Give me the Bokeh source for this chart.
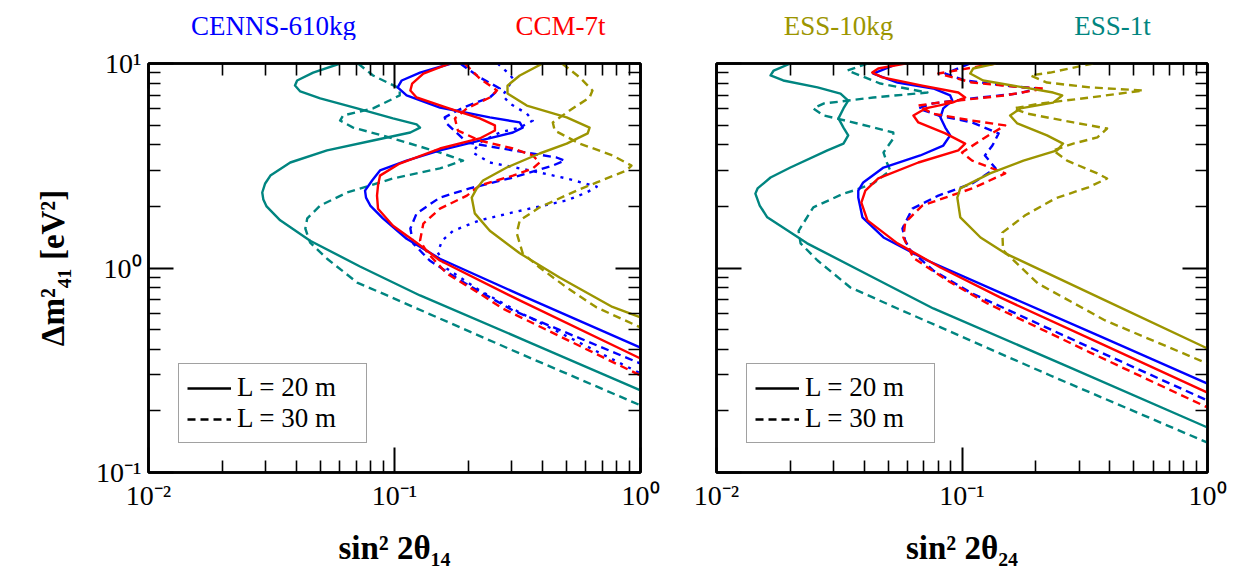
from bokeh.plotting import figure
from bokeh.models import (LogAxis, FixedTicker, CustomJSTickFormatter, Legend,
                          LegendItem, Range1d)
from bokeh.layouts import row, column
from bokeh.core.properties import value
from bokeh.embed import file_html
from bokeh.resources import INLINE

# ---------------- data: left panel (sin^2 2theta_14) ----------------
ess1t_L20_s14 = [0.0601, 0.0467, 0.0402, 0.0394, 0.0414, 0.0499, 0.0705, 0.0986, 0.123, 0.127, 0.116, 0.0818,
                 0.0532, 0.0377, 0.0313, 0.0298, 0.0290, 0.0293, 0.0302, 0.0343, 0.0454, 0.0724, 0.127, 0.355, 1.0]
ess1t_L20_m14 = [10.0, 9.03, 8.26, 7.80, 7.30, 6.75, 6.03, 5.39, 5.04, 4.86, 4.60, 4.20,
                 3.76, 3.28, 2.83, 2.59, 2.34, 2.16, 2.00, 1.71, 1.36, 1.017, 0.734, 0.432, 0.252]
ess1t_L30_s14 = [0.0711, 0.0818, 0.105, 0.105, 0.0818, 0.0618, 0.0601, 0.0679, 0.0986, 0.153, 0.190, 0.153,
                 0.0986, 0.0641, 0.0499, 0.0442, 0.0434, 0.0454, 0.0532, 0.0705, 0.0933, 0.323, 1.0]
ess1t_L30_m14 = [10.0, 8.74, 7.55, 6.98, 6.03, 5.57, 5.26, 4.86, 4.30, 3.67, 3.35, 3.07,
                 2.74, 2.34, 2.02, 1.75, 1.56, 1.33, 1.11, 0.849, 0.734, 0.382, 0.213]
cenns_L20_s14 = [0.170, 0.127, 0.107, 0.103, 0.112, 0.153, 0.244, 0.323, 0.332, 0.303, 0.222, 0.153,
                 0.112, 0.0873, 0.0811, 0.0759, 0.0766, 0.0797, 0.0897, 0.112, 0.153, 0.323, 1.0]
cenns_L20_m14 = [10.0, 9.03, 8.26, 7.64, 6.98, 6.09, 5.45, 5.15, 4.86, 4.60, 4.20, 3.76,
                 3.35, 3.00, 2.68, 2.39, 2.21, 2.02, 1.75, 1.39, 1.11, 0.741, 0.408]
cenns_L30_s14 = [0.185, 0.222, 0.268, 0.244, 0.190, 0.160, 0.163, 0.197, 0.303, 0.456, 0.492, 0.440,
                 0.303, 0.202, 0.153, 0.123, 0.116, 0.119, 0.139, 0.185, 0.303, 1.0]
cenns_L30_m14 = [10.0, 8.55, 7.55, 6.82, 6.09, 5.45, 5.09, 4.11, 3.76, 3.47, 3.35, 3.17,
                 2.77, 2.45, 2.21, 1.85, 1.56, 1.32, 1.088, 0.869, 0.620, 0.341]
cenns_alt_s14 = [0.263, 0.288, 0.303, 0.288, 0.275, 0.294, 0.345, 0.365, 0.323, 0.268, 0.222, 0.208,
                 0.244, 0.355, 0.501, 0.664, 0.604, 0.501, 0.303, 0.222, 0.173, 0.156, 0.150, 0.157,
                 0.163, 0.222, 0.323, 1.0]
cenns_alt_m14 = [10.0, 9.03, 8.45, 7.55, 6.98, 6.37, 5.69, 5.26, 4.86, 4.60, 4.11, 3.67,
                 3.28, 3.00, 2.74, 2.50, 2.34, 2.14, 1.87, 1.71, 1.52, 1.36, 1.19, 1.088,
                 0.994, 0.776, 0.606, 0.305]
ccm_L20_s14 = [0.168, 0.131, 0.118, 0.116, 0.123, 0.163, 0.222, 0.256, 0.256, 0.222, 0.153, 0.105,
               0.0873, 0.0857, 0.0849, 0.0857, 0.0986, 0.123, 0.153, 0.323, 1.0]
ccm_L20_m14 = [10.0, 8.93, 7.98, 7.38, 6.82, 6.09, 5.39, 4.98, 4.70, 4.30, 3.84, 3.24,
               2.83, 2.53, 2.26, 1.95, 1.61, 1.33, 1.088, 0.694, 0.361]
ccm_L30_s14 = [0.193, 0.222, 0.261, 0.244, 0.197, 0.176, 0.181, 0.222, 0.303, 0.365, 0.389, 0.365,
               0.303, 0.222, 0.197, 0.153, 0.131, 0.127, 0.136, 0.163, 0.222, 0.275, 1.0]
ccm_L30_m14 = [10.0, 8.45, 7.38, 6.82, 6.03, 5.39, 4.70, 4.20, 3.84, 3.55, 3.28, 3.07,
               2.83, 2.53, 2.26, 1.95, 1.65, 1.36, 1.19, 0.940, 0.750, 0.634, 0.298]
ess10_L20_s14 = [0.40, 0.323, 0.288, 0.288, 0.345, 0.501, 0.621, 0.610, 0.501, 0.389, 0.286, 0.229,
                 0.216, 0.206, 0.212, 0.244, 0.323, 0.469, 0.769, 1.0]
ess10_L20_m14 = [10.0, 8.74, 7.80, 7.13, 6.23, 5.45, 4.86, 4.55, 4.06, 3.63, 3.10, 2.68,
                 2.45, 2.21, 1.85, 1.52, 1.18, 0.899, 0.645, 0.573]
ess10_L30_s14 = [0.48, 0.566, 0.638, 0.621, 0.515, 0.440, 0.448, 0.566, 0.769, 0.919, 0.877, 0.664,
                 0.550, 0.389, 0.323, 0.314, 0.332, 0.389, 0.501, 0.664, 1.0]
ess10_L30_m14 = [10.0, 8.55, 7.38, 6.82, 5.89, 5.15, 4.70, 4.06, 3.55, 3.17, 3.00, 2.62,
                 2.39, 1.98, 1.71, 1.48, 1.18, 1.006, 0.803, 0.641, 0.512]

# ---------------- data: right panel (sin^2 2theta_24) ----------------
ess1t_L20_s24 = [0.0200, 0.0171, 0.0166, 0.0187, 0.0258, 0.0320, 0.0344, 0.0329, 0.0314, 0.0329, 0.0344,
                 0.0329, 0.0283, 0.0200, 0.0166, 0.0147, 0.0144, 0.0150, 0.0161, 0.0234, 0.0435, 0.0764,
                 0.276, 1.0]
ess1t_L20_m24 = [10.0, 9.24, 8.74, 8.26, 7.64, 7.13, 6.59, 6.03, 5.39, 4.86, 4.45,
                 4.06, 3.76, 3.10, 2.77, 2.45, 2.31, 2.02, 1.77, 1.32, 0.899, 0.634,
                 0.326, 0.166]
ess1t_L30_s24 = [0.0412, 0.0341, 0.0465, 0.0723, 0.0435, 0.0273, 0.0248, 0.0273, 0.0375, 0.0525, 0.0525,
                 0.0479, 0.0496, 0.0510, 0.0435, 0.0361, 0.0329, 0.0248, 0.0216, 0.0220, 0.0258,
                 0.0351, 0.0546, 0.229, 1.0]
ess1t_L30_m24 = [10.0, 9.24, 7.98, 7.21, 6.82, 6.37, 6.03, 5.57, 5.09, 4.60, 4.30,
                 3.67, 3.24, 3.00, 2.59, 2.39, 2.31, 1.98, 1.52, 1.32, 1.088,
                 0.803, 0.634, 0.298, 0.140]
cenns_L20_s24 = [0.0551, 0.0435, 0.0546, 0.0764, 0.0895, 0.0913, 0.0839, 0.0817, 0.0855, 0.0895, 0.0839,
                 0.0676, 0.0479, 0.0396, 0.0378, 0.0378, 0.0393, 0.0479, 0.0723, 0.143, 0.366, 1.0]
cenns_L20_m24 = [10.0, 8.93, 8.07, 7.55, 6.98, 6.59, 6.03, 5.45, 4.86, 4.45, 3.97,
                 3.55, 3.10, 2.62, 2.39, 2.21, 1.77, 1.41, 1.088, 0.758, 0.463, 0.272]
ccm_L20_s24 = [0.0587, 0.0456, 0.0431, 0.0474, 0.0689, 0.0966, 0.103, 0.0913, 0.0710, 0.0634, 0.0664,
               0.0855, 0.103, 0.0966, 0.0664, 0.0456, 0.0404, 0.0389, 0.0412, 0.0546, 0.0817, 0.143,
               0.366, 1.0]
ccm_L20_m24 = [10.0, 9.45, 9.03, 8.55, 7.80, 7.21, 6.82, 6.44, 6.03, 5.57, 5.15,
               4.55, 4.06, 3.76, 3.28, 2.74, 2.39, 2.09, 1.71, 1.32, 1.006, 0.718,
               0.428, 0.246]
cenns_L30_s24 = [0.108, 0.0855, 0.103, 0.150, 0.204, 0.169, 0.110, 0.0757, 0.0664, 0.0801, 0.110, 0.141,
                 0.133, 0.124, 0.137, 0.110, 0.0801, 0.0628, 0.0572, 0.0587, 0.0617, 0.0764, 0.110,
                 0.333, 1.0]
cenns_L30_m24 = [10.0, 8.93, 8.26, 7.80, 7.55, 7.13, 6.75, 6.37, 6.03, 5.57, 5.15, 4.55,
                 3.97, 3.55, 3.07, 2.59, 2.26, 1.95, 1.56, 1.36, 1.22, 0.972, 0.750,
                 0.408, 0.225]
ccm_L30_s24 = [0.137, 0.0801, 0.110, 0.176, 0.218, 0.150, 0.0801, 0.0664, 0.0757, 0.110, 0.150, 0.128,
               0.100, 0.110, 0.150, 0.110, 0.0689, 0.0587, 0.0577, 0.0634, 0.0871, 0.127, 0.333, 1.0]
ccm_L30_m24 = [10.0, 8.93, 8.07, 7.64, 7.55, 6.98, 6.44, 6.23, 5.69, 5.26, 4.98, 4.45,
               3.67, 3.35, 2.90, 2.45, 2.02, 1.67, 1.41, 1.12, 0.869, 0.671, 0.386, 0.208]
ess10_L20_s24 = [0.137, 0.111, 0.108, 0.122, 0.178, 0.235, 0.256, 0.235, 0.173, 0.157, 0.168, 0.222,
                 0.258, 0.244, 0.178, 0.130, 0.0984, 0.0957, 0.0984, 0.119, 0.150, 0.383, 1.0]
ess10_L20_m24 = [10.0, 9.45, 8.93, 8.26, 7.64, 7.21, 6.98, 6.44, 6.03, 5.57, 5.09, 4.45,
                 4.06, 3.76, 3.35, 2.90, 2.45, 2.21, 1.77, 1.41, 1.18, 0.694, 0.404]
ess10_L30_s24 = [0.342, 0.229, 0.190, 0.222, 0.333, 0.547, 0.333, 0.208, 0.162, 0.184, 0.284, 0.390,
                 0.356, 0.284, 0.235, 0.268, 0.356, 0.390, 0.327, 0.240, 0.181, 0.146, 0.147, 0.204,
                 0.383, 1.0]
ess10_L30_m24 = [10.0, 9.03, 8.74, 8.07, 7.64, 7.38, 6.82, 6.37, 6.03, 5.69, 5.15, 4.81,
                 4.35, 4.06, 3.76, 3.35, 2.90, 2.74, 2.48, 2.19, 1.81, 1.49, 1.22, 0.840,
                 0.554, 0.341]

x_major = [0.01, 0.1, 1.0]
y_major = [0.1, 1.0, 10.0]
minor_mult = [2, 3, 4, 5, 6, 7, 8, 9]
legend_labels = ["L = 20 m", "L = 30 m"]
title_names = ["CENNS-610kg", "CCM-7t", "ESS-10kg", "ESS-1t"]

BLUE = "#0000ff"
RED = "#ff0000"
OLIVE = "#9c9500"
TEAL = "#008580"
title_colors = [BLUE, RED, OLIVE, TEAL]
SERIF = "Liberation Serif"
LW = 2.4
DASH = "8 5"
DOT = "3 6"

x_minor = [m * t for t in x_major[:-1] for m in minor_mult]
y_minor = [m * t for t in y_major[:-1] for m in minor_mult]

fmt_code = """
const e = Math.round(Math.log10(tick));
const sup = {'-': '\u207b', '0': '\u2070', '1': '\u00b9', '2': '\u00b2', '3': '\u00b3'};
return '10' + String(e).split('').map(c => sup[c]).join('');
"""

TOTAL_W = 148 + 492 + 22 + 54 + 491 + 20
HEAD_H = 40


def style_axis(ax, show_labels):
    ax.axis_line_width = 2.5
    ax.axis_line_color = "black"
    ax.major_tick_in = 25
    ax.major_tick_out = 0
    ax.minor_tick_in = 12
    ax.minor_tick_out = 0
    ax.major_tick_line_width = 2
    ax.minor_tick_line_width = 1.6
    ax.major_tick_line_color = "black"
    ax.minor_tick_line_color = "black"
    ax.major_label_text_font = SERIF
    ax.major_label_text_color = "black"
    ax.major_label_text_font_size = "28px"
    if show_labels:
        ax.formatter = CustomJSTickFormatter(code=fmt_code)
        ax.major_label_standoff = 7
    else:
        ax.formatter = CustomJSTickFormatter(code="return '';")
        ax.major_label_standoff = 0
    ax.axis_label_text_font = SERIF
    ax.axis_label_text_font_style = "bold"
    ax.axis_label_text_font_size = "33px"
    ax.axis_label_text_color = "black"


def make_panel(frame_w, left_border, right_border, ylabels, xlabel, ylabel, curves):
    p = figure(x_axis_type="log", y_axis_type="log", x_range=(0.01, 1.0), y_range=(0.1, 10.0),
               frame_width=frame_w, frame_height=409,
               min_border_left=left_border, min_border_right=right_border,
               min_border_top=63 - HEAD_H, min_border_bottom=94,
               output_backend="svg", toolbar_location=None)
    p.grid.visible = False
    p.outline_line_color = "black"
    p.outline_line_width = 2.5
    p.background_fill_color = "white"
    p.border_fill_color = "white"

    p.add_layout(LogAxis(), "above")
    p.add_layout(LogAxis(), "right")
    for ax in p.xaxis:
        ax.ticker = FixedTicker(ticks=x_major, minor_ticks=x_minor)
    for ax in p.yaxis:
        ax.ticker = FixedTicker(ticks=y_major, minor_ticks=y_minor)
    p.below[0].axis_label = xlabel
    p.below[0].axis_label_standoff = 16
    style_axis(p.below[0], True)
    style_axis(p.above[0], False)
    style_axis(p.right[0], False)
    style_axis(p.left[0], ylabels)
    if ylabel:
        p.left[0].axis_label = ylabel
        p.left[0].axis_label_standoff = 22

    for xs, ys, color, dash in curves:
        p.line(xs, ys, line_color=color, line_width=LW, line_dash=dash, line_join="round")

    nan = [float("nan")]
    r_solid = p.line(nan, nan, line_color="black", line_width=LW)
    r_dash = p.line(nan, nan, line_color="black", line_width=LW, line_dash=DASH)
    legend = Legend(items=[LegendItem(label=legend_labels[0], renderers=[r_solid]),
                           LegendItem(label=legend_labels[1], renderers=[r_dash])],
                    location=(30, 29))
    legend.label_text_font = SERIF
    legend.label_text_font_size = "27px"
    legend.label_text_color = "black"
    legend.glyph_width = 44
    legend.glyph_height = 30
    legend.label_height = 30
    legend.label_width = 121
    legend.label_standoff = 6
    legend.padding = 8
    legend.spacing = 0
    legend.margin = 0
    legend.border_line_color = "#444444"
    legend.border_line_width = 1
    legend.background_fill_alpha = 1.0
    p.add_layout(legend)
    return p


left_curves = [
    (ess1t_L20_s14, ess1t_L20_m14, TEAL, "solid"),
    (ess1t_L30_s14, ess1t_L30_m14, TEAL, DASH),
    (cenns_L20_s14, cenns_L20_m14, BLUE, "solid"),
    (cenns_L30_s14, cenns_L30_m14, BLUE, DASH),
    (cenns_alt_s14, cenns_alt_m14, BLUE, DOT),
    (ccm_L20_s14, ccm_L20_m14, RED, "solid"),
    (ccm_L30_s14, ccm_L30_m14, RED, DASH),
    (ess10_L20_s14, ess10_L20_m14, OLIVE, "solid"),
    (ess10_L30_s14, ess10_L30_m14, OLIVE, DASH),
]
right_curves = [
    (ess1t_L20_s24, ess1t_L20_m24, TEAL, "solid"),
    (ess1t_L30_s24, ess1t_L30_m24, TEAL, DASH),
    (cenns_L20_s24, cenns_L20_m24, BLUE, "solid"),
    (cenns_L30_s24, cenns_L30_m24, BLUE, DASH),
    (ccm_L20_s24, ccm_L20_m24, RED, "solid"),
    (ccm_L30_s24, ccm_L30_m24, RED, DASH),
    (ess10_L20_s24, ess10_L20_m24, OLIVE, "solid"),
    (ess10_L30_s24, ess10_L30_m24, OLIVE, DASH),
]

p1 = make_panel(492, 148, 22, True, "sin\u00b2 2\u03b8\u2081\u2084", "\u0394m\u00b2\u2084\u2081 [eV\u00b2]",
                left_curves)
p2 = make_panel(491, 54, 20, False, "sin\u00b2 2\u03b8\u2082\u2084", None, right_curves)

# header strip carrying the coloured experiment names
head = figure(width=TOTAL_W, height=HEAD_H, x_range=Range1d(0, TOTAL_W), y_range=Range1d(0, HEAD_H),
              x_axis_type=None, y_axis_type=None, min_border=0,
              output_backend="svg", toolbar_location=None)
head.grid.visible = False
head.outline_line_color = None
head.background_fill_color = "white"
head.border_fill_color = "white"
head.text(x=[273, 560, 838, 1112], y=[HEAD_H - 25] * 4, text=title_names, text_color=title_colors,
          text_font=value(SERIF), text_font_size=value("27px"),
          text_align="center", text_baseline="middle")

layout = column(head, row(p1, p2, spacing=0), spacing=0)
open("out.html", "w").write(file_html(layout, INLINE))
